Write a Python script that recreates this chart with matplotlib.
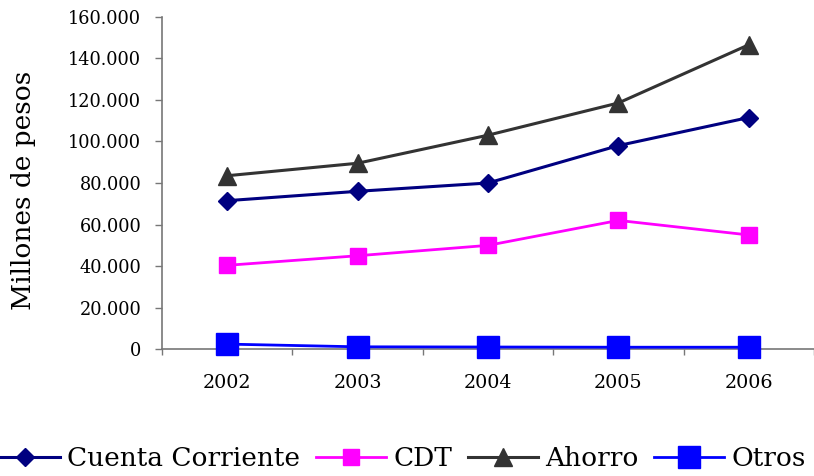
import matplotlib
matplotlib.use("Agg")
import matplotlib.pyplot as plt
from matplotlib.ticker import FuncFormatter
import numpy as np

# data (millones de pesos)
years = ["2002", "2003", "2004", "2005", "2006"]
cuenta_corriente = [71500, 76000, 80000, 98000, 111500]
cdt = [40400, 45000, 50000, 62000, 55000]
ahorro = [83500, 89500, 103000, 118500, 146500]
otros = [2500, 1200, 1100, 1000, 1000]

plt.rcParams['font.family'] = ['DejaVu Serif']

fig = plt.figure(figsize=(8.14, 4.76), dpi=100)
ax = fig.add_axes([162 / 814, 1 - 349.3 / 476, 652 / 814, 332.6 / 476])

x = np.arange(len(years))
ax.plot(x, cuenta_corriente, color='#000080', lw=2.2, marker='D', ms=8.7,
        label='Cuenta Corriente', zorder=3)
ax.plot(x, cdt, color='#FF00FF', lw=2.0, marker='s', ms=11.3,
        label='CDT', zorder=3)
ax.plot(x, ahorro, color='#333333', lw=2.2, marker='^', ms=12.5,
        label='Ahorro', zorder=3)
ax.plot(x, otros, color='#0000FF', lw=2.0, marker='s', ms=16.3,
        label='Otros', zorder=3, clip_on=False)

ax.set_xlim(-0.5, len(years) - 0.5)
ax.set_ylim(0, 160000)
ax.set_yticks(np.arange(0, 160001, 20000))
ax.yaxis.set_major_formatter(FuncFormatter(lambda v, p: f"{int(v):,}".replace(',', '.')))

# category boundaries as ticks, labels in between
ax.set_xticks(np.arange(-0.5, len(years), 1))
ax.set_xticklabels([])
ax.set_xticks(x, minor=True)
ax.set_xticklabels(years, minor=True)
ax.tick_params(axis='x', which='minor', length=0, pad=18, labelsize=13.8)
ax.tick_params(axis='x', which='major', length=4.5, width=1, color='#777777')
ax.tick_params(axis='y', length=5, width=1, color='#777777', pad=10, labelsize=12.8)

for s in ['top', 'right']:
    ax.spines[s].set_visible(False)
for s in ['left', 'bottom']:
    ax.spines[s].set_color('#777777')
    ax.spines[s].set_linewidth(1.2)

fig.text(24 / 814, 1 - 190 / 476, 'Millones de pesos', fontsize=19,
         rotation=90, ha='center', va='center')

fig.legend(loc='center', bbox_to_anchor=(398 / 814, 1 - 459 / 476), ncol=4,
           frameon=False, fontsize=19, handlelength=2.65, handletextpad=0.27,
           columnspacing=0.6, borderpad=0, borderaxespad=0)

fig.savefig('out.png', dpi=100)
